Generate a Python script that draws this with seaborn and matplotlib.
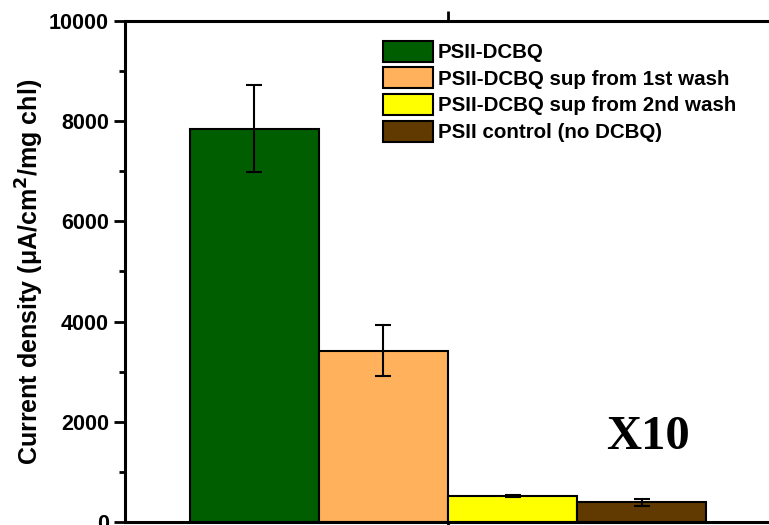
import matplotlib
matplotlib.use("Agg")
import matplotlib.pyplot as plt
import seaborn as sns
import pandas as pd
import numpy as np
from matplotlib.ticker import MultipleLocator

categories = ["PSII-DCBQ", "PSII-DCBQ sup from 1st wash",
              "PSII-DCBQ sup from 2nd wash", "PSII control (no DCBQ)"]
values = [7850, 3420, 520, 390]
errors = [870, 505, 20, 70]
colors = ["#005e00", "#ffb25b", "#ffff00", "#603a00"]

sns.set_style("white")
plt.rcParams['font.family'] = ['Liberation Sans', 'DejaVu Sans']
plt.rcParams['text.color'] = 'black'
plt.rcParams['axes.labelcolor'] = 'black'
plt.rcParams['xtick.color'] = 'black'
plt.rcParams['ytick.color'] = 'black'

df = pd.DataFrame({"cat": categories, "val": values})

fig = plt.figure(figsize=(7.69, 5.25), dpi=100)
ax = fig.add_axes([0.1625, 0.006, 0.84, 0.954])

sns.barplot(data=df, x="cat", y="val", hue="cat", palette=colors,
            order=categories, hue_order=categories, dodge=False, width=1.0,
            edgecolor="black", linewidth=1.5, ax=ax, legend=True, saturation=1)

ax.errorbar(np.arange(len(categories)), values, yerr=errors, fmt="none",
            ecolor="black", elinewidth=1.5, capsize=6, capthick=1.5, zorder=5)

ax.set_xlim(-1.0, 4.0)
ax.set_ylim(0, 10000)
ax.yaxis.set_major_locator(MultipleLocator(2000))
ax.yaxis.set_minor_locator(MultipleLocator(1000))
ax.set_xticks([1.5])
ax.set_xticklabels([""])
ax.tick_params(axis="x", which="both", top=True, bottom=True, direction="out",
               length=7, width=2)
ax.tick_params(axis="y", which="major", left=True, direction="out", length=8,
               width=2, labelsize=15.5, labelcolor="black")
ax.tick_params(axis="y", which="minor", left=True, direction="out", length=4,
               width=2)
for lab in ax.get_yticklabels():
    lab.set_fontweight("bold")
for s in ax.spines.values():
    s.set_linewidth(2.2)
    s.set_color("black")
    s.set_visible(True)

ax.set_xlabel("")
ax.set_ylabel("Current density (\u03bcA/cm$^\\mathbf{2}$/mg chl)", fontsize=18,
              fontweight="bold", labelpad=2, color="black")

leg = ax.legend(loc="upper left", bbox_to_anchor=(0.386, 0.977), frameon=False,
                prop={"weight": "bold", "size": 14.8}, handlelength=2.45,
                handleheight=1.2, labelspacing=0.25, handletextpad=0.25,
                borderaxespad=0)
for h in leg.legend_handles:
    h.set_edgecolor("black")
    h.set_linewidth(1.5)
for t in leg.get_texts():
    t.set_color("black")

ax.text(3.05, 1700, "X10", fontsize=35, fontweight="bold", color="black",
        family=["Liberation Serif", "DejaVu Serif"], ha="center", va="center")

fig.savefig("out.png", dpi=100)
